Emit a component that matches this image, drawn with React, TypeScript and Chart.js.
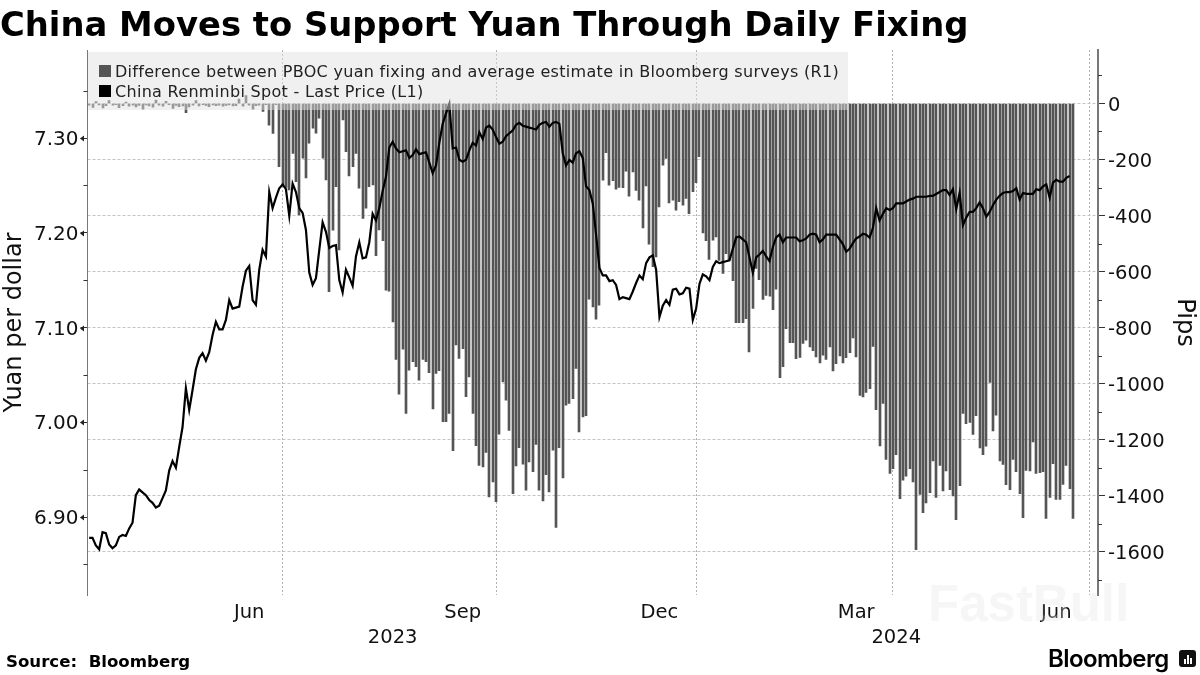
import { useEffect, useRef } from "react"
import { Chart, registerables, type Plugin } from "chart.js"

Chart.register(...registerables)

// China Renminbi spot, one value per trading day
const spotPrice: (number | null)[] = [
  6.878, 6.878, 6.87, 6.866, 6.884, 6.883, 6.871, 6.867, 6.87, 6.879,
  6.881, 6.88, 6.888, 6.894, 6.923, 6.929, 6.926,
  6.923, 6.918, 6.915, 6.91, 6.912, 6.92, 6.928, 6.949, 6.959, 6.952, 6.974, 6.995, 7.036, 7.013,
  7.034, 7.056, 7.068, 7.073, 7.065, 7.074, 7.092, 7.106, 7.098, 7.098, 7.108, 7.129, 7.12, 7.121,
  7.122, 7.143, 7.16, 7.165, 7.129, 7.124, 7.161, 7.182, 7.175, 7.243, 7.226, 7.237, 7.247, 7.251,
  7.246, 7.218, 7.252, 7.243, 7.226, 7.221, 7.203, 7.158, 7.145, 7.152, 7.182, 7.211, 7.201, 7.184, 7.186,
  7.187, 7.15, 7.137, 7.161, 7.153, 7.144, 7.175, 7.19, 7.173, 7.174, 7.19, 7.22, 7.213, 7.226, 7.244,
  7.259, 7.29, 7.296, 7.289, 7.285, 7.286, 7.287, 7.279, 7.282, 7.288, 7.283, 7.284,
  7.285, 7.274, 7.263, 7.271, 7.295, 7.315, 7.326, 7.336, 7.289, 7.29, 7.277, 7.275, 7.277, 7.287,
  7.295, 7.292, 7.306, 7.299, 7.311, 7.313, 7.309, 7.301, 7.294, 7.296, 7.302, 7.305, 7.308, 7.314,
  7.316, 7.313, 7.312, 7.311,
  7.31, 7.309, 7.314, 7.316, 7.317, 7.312, 7.316, 7.317, 7.315, 7.284, 7.271, 7.277, 7.274, 7.284,
  7.286, 7.279, 7.249, 7.245, 7.231, 7.198, 7.163, 7.155, 7.155, 7.149, 7.15, 7.145, 7.13, 7.132, 7.131,
  7.13, 7.138, 7.147, 7.155, 7.151, 7.168, 7.174, 7.176, 7.161, 7.111, 7.123, 7.129, 7.124, 7.14,
  7.141, 7.135, 7.136, 7.142, 7.141, 7.108, 7.12, 7.146, 7.156, 7.154, 7.15, 7.164, 7.17, 7.168, 7.169, 7.17,
  7.171, 7.183, 7.195, 7.196, 7.193, 7.19, 7.174, 7.158, 7.174, 7.177, 7.181, 7.175, 7.17, 7.185,
  7.195, 7.198, 7.19, 7.195, 7.195, 7.195, 7.195, 7.191, 7.192, 7.194, 7.198, 7.199, 7.198, 7.19,
  7.193, 7.198, 7.198, 7.198,
  7.198, 7.193, 7.188, 7.18, 7.183, 7.189, 7.194, 7.196, 7.199, 7.198, 7.195, 7.205, 7.226, 7.213,
  7.22, 7.226, 7.224, 7.226, 7.231, 7.231, 7.231, 7.233, 7.235, 7.236, 7.238, 7.238, 7.238,
  7.238, 7.239, 7.239, 7.241, 7.243, 7.245, 7.245, 7.24, 7.246, 7.225, 7.242, 7.208, 7.216, 7.222,
  7.222, 7.226, 7.232, 7.226, 7.217, 7.222, 7.229, 7.235, 7.239, 7.242, 7.243, 7.243, 7.244, 7.247,
  7.235, 7.242, 7.241, 7.241,
  7.241, 7.246, 7.245, 7.249, 7.251, 7.237, 7.253, 7.256, 7.254, 7.254, 7.258, 7.26, null,
]

// PBOC fixing minus the survey estimate, in pips
const fixingGap = [
  -6, -14, 7, -5, -16, -8, 10, -6, -4, -15, -8, 5, -10, -6, -12, -7, -20, -5, -9, -13,
  12, -6, -10, 8, -4, -18, -7, -11, -9, -33, -12, -6, 10, -9, -4, -7, -11, -5, -8, -6,
  -10, -7, -5, -9, -8, 16, -10, 28, -6, -20, -8, -6, -28, -4,
  -77, -107, -4, -226, -290, -300, -309, -178, -279, -398,
  -195, -266, -142, -88, -106, -52, -195, -273, -672, -452,
  -297, -523, -59, -172, -259, -226, -178, -302, -410, -374,
  -297, -291, -543, -451, -490, -667, -670, -780, -914, -1038,
  -877, -1107, -952, -922, -940, -988, -914, -922, -961, -1091,
  -964, -954, -1136, -1136, -1107, -1240, -862, -910, -875, -1047,
  -976, -1107, -1222, -1292, -1298, -1246, -1405, -1351, -1422, -1181,
  -994, -1059, -1167,
  -1393, -1294, -1229, -1288, -1381, -1280, -1315, -1217, -1381, -1419,
  -1325, -1387, -1238, -1514, -1229, -1337, -1077, -1071, -1054, -946,
  -1173, -1119, -1115, -699, -726, -770, -720, -274, -176, -292,
  -276, -306, -300, -301, -242, -331, -244, -310, -345, -444,
  -294, -502, -583, -548, -369, -220, -196, -355, -345, -381,
  -351, -363, -339, -393, -315, -283, -190, -462, -490, -557,
  -488, -476, -560, -607, -536, -560, -633, -783, -783, -783,
  -768, -887, -732, -589, -629, -700, -685, -688, -736, -663, -979,
  -940, -804, -854, -854, -911, -907, -857, -845, -869, -883,
  -905, -926, -899, -914, -869, -955, -929, -901, -926, -908,
  -890, -837, -905, -1042, -1048, -1032, -1018, -867, -1093, -1223,
  -1071, -1271, -1321, -1304, -1254, -1411, -1345, -1331, -1304, -1351,
  -1593, -1396, -1461, -1426, -1390, -1276, -1407, -1292, -1383, -1312,
  -1379, -1401, -1486, -1365, -1107, -1143, -1139, -1182, -1115, -1230,
  -1254, -1224, -996, -1169, -1113, -1276, -1289, -1361, -1379, -1271,
  -1315, -1393, -1479, -1310, -1312, -1208, -1321, -1318, -1315, -1482,
  -1407, -1286, -1414, -1414, -1360, -1292, -1375, -1482,
]

// the axis runs a few empty days past the last value
const tradingDays = Array.from({ length: 303 }, (_, i) => String(i))
const quarterEndDays = [58, 122, 182, 241, 300]
const monthDays = [48, 112, 171, 230, 290]
const monthNames = ["Jun", "Sep", "Dec", "Mar", "Jun"]
const yearDays = [91, 242]
const yearNames = ["2023", "2024"]

const legendItems = [
  { text: "Difference between PBOC yuan fixing and average estimate in Bloomberg surveys (R1)", color: "#555555" },
  { text: "China Renminbi Spot - Last Price (L1)", color: "#000000" },
]

const FONT = "'DejaVu Sans', sans-serif"
const GRID = "#c4c4c4"
const isWhole = (v: number, step: number) => Math.abs(Math.round(v / step) * step - v) < 1e-6

// short ticks between the labelled ones, and the little arrows Bloomberg puts on the left axis
const axisMarks: Plugin<"bar"> = {
  id: "axisMarks",
  afterDraw(chart) {
    const { ctx } = chart
    const left = chart.scales.y
    const right = chart.scales.y1
    ctx.save()
    ctx.strokeStyle = "#333"
    ctx.fillStyle = "#222"
    ctx.lineWidth = 1
    left.ticks.forEach((t) => {
      const y = Math.round(left.getPixelForValue(t.value)) + 0.5
      if (isWhole(t.value, 0.1)) {
        ctx.beginPath()
        ctx.moveTo(80, y)
        ctx.lineTo(84, y - 3)
        ctx.lineTo(84, y + 3)
        ctx.closePath()
        ctx.fill()
      } else {
        ctx.beginPath()
        ctx.moveTo(83.5, y)
        ctx.lineTo(left.right, y)
        ctx.stroke()
      }
    })
    right.ticks.forEach((t) => {
      if (isWhole(t.value, 200)) return
      const y = Math.round(right.getPixelForValue(t.value)) + 0.5
      ctx.beginPath()
      ctx.moveTo(right.left, y)
      ctx.lineTo(right.left + 4, y)
      ctx.stroke()
    })
    ctx.restore()
  },
}

// keep the thin bars on whole pixels, otherwise antialiasing makes them look striped
const crispBars: Plugin<"bar"> = {
  id: "crispBars",
  beforeDatasetsDraw(chart) {
    chart.getDatasetMeta(1).data.forEach((bar) => {
      bar.x = Math.round(bar.x)
    })
  },
}

// an empty first line with a tiny line height nudges the label down 2px, as in the reference
const nudged = (label: string) => (label ? ["", label] : "")

export default function App() {
  const chartRef = useRef<HTMLCanvasElement>(null)

  useEffect(() => {
    if (!chartRef.current) return

    const chart = new Chart(chartRef.current, {
      type: "bar",
      data: {
        labels: tradingDays,
        datasets: [
          {
            type: "line",
            label: "China Renminbi Spot - Last Price (L1)",
            data: spotPrice,
            yAxisID: "y",
            borderColor: "#000",
            borderWidth: 2.2,
            pointRadius: 0,
            tension: 0,
            order: 1,
          },
          {
            type: "bar",
            label: "Difference between PBOC yuan fixing and average estimate in Bloomberg surveys (R1)",
            data: fixingGap,
            yAxisID: "y1",
            backgroundColor: "#555555",
            barThickness: 2,
            order: 2,
          },
        ],
      },
      options: {
        responsive: false,
        animation: false,
        layout: { padding: { top: 50 } },
        plugins: { legend: { display: false }, tooltip: { enabled: false } },
        scales: {
          x: {
            offset: true,
            afterFit: (scale) => {
              scale.height = 80
            },
            border: { display: false, dash: [2, 2] },
            grid: {
              offset: false,
              drawTicks: false,
              color: (c) => (quarterEndDays.includes(c.index) ? "#b0b0b0" : "transparent"),
            },
            ticks: {
              autoSkip: false,
              maxRotation: 0,
              minRotation: 0,
              padding: 5,
              color: "#111",
              font: { family: FONT, size: 19.5, lineHeight: 1.28 },
              callback: (_v, i) => {
                if (monthDays.includes(i)) return monthNames[monthDays.indexOf(i)]
                if (yearDays.includes(i)) return ["", yearNames[yearDays.indexOf(i)]]
                return ""
              },
            },
          },
          y: {
            position: "left",
            min: 6.8177,
            max: 7.3929,
            afterFit: (scale) => {
              scale.width = 87.5
            },
            border: { color: "#777", width: 1 },
            grid: {
              drawOnChartArea: false,
              tickLength: 7,
              tickColor: (c) => (isWhole(c.tick.value, 0.1) ? "#333" : "transparent"),
            },
            title: {
              display: true,
              text: "Yuan per dollar",
              color: "#111",
              font: { family: FONT, size: 24 },
              padding: 0,
            },
            ticks: {
              stepSize: 0.05,
              includeBounds: false,
              autoSkip: false,
              padding: 2,
              color: "#111",
              font: { family: FONT, size: 20, lineHeight: 0.2 },
              callback: (v) => nudged(isWhole(Number(v), 0.1) ? Number(v).toFixed(2) : ""),
            },
          },
          y1: {
            position: "right",
            min: -1755,
            max: 191,
            afterFit: (scale) => {
              scale.width = 102
            },
            border: { color: "#777", width: 2, dash: [3, 2] },
            grid: {
              tickLength: 7,
              tickColor: (c) => (isWhole(c.tick.value, 200) ? "#333" : "transparent"),
              color: (c) => (isWhole(c.tick.value, 200) && c.tick.value <= 0 ? GRID : "transparent"),
            },
            title: {
              display: true,
              text: "Pips",
              color: "#111",
              font: { family: FONT, size: 24 },
              padding: 1,
            },
            ticks: {
              stepSize: 100,
              includeBounds: false,
              autoSkip: false,
              padding: 3,
              color: "#111",
              font: { family: FONT, size: 19.5, lineHeight: 0.2 },
              callback: (v) => nudged(isWhole(Number(v), 200) && Number(v) <= 0 ? String(v) : ""),
            },
          },
        },
      },
      plugins: [crispBars, axisMarks],
    })

    return () => chart.destroy()
  }, [])

  return (
    <div style={{ position: "fixed", left: 0, top: 0, width: 1200, height: 675, background: "#fff", overflow: "hidden", fontFamily: FONT, color: "#000" }}>
      <canvas ref={chartRef} width={1200} height={675} style={{ position: "absolute", left: 0, top: 0 }} />

      <div style={{ position: "absolute", left: 0, top: 4, fontSize: 33.8, fontWeight: 700, whiteSpace: "nowrap", lineHeight: "42px" }}>
        China Moves to Support Yuan Through Daily Fixing
      </div>

      {/* legend sits on a see-through panel over the top of the bars */}
      <div style={{ position: "absolute", left: 88, top: 52, width: 760, height: 58, background: "rgba(224,224,224,0.49)" }} />
      {legendItems.map((item, i) => (
        <div key={item.text} style={{ position: "absolute", left: 99, top: 61 + i * 20, height: 20, display: "flex", alignItems: "center", whiteSpace: "nowrap", fontSize: 16, letterSpacing: 0.3, color: "#222" }}>
          <span style={{ width: 12, height: 12, background: item.color, marginRight: 4 }} />
          {item.text}
        </div>
      ))}

      <div style={{ position: "absolute", left: 928, top: 574, fontFamily: "'Liberation Sans', sans-serif", fontSize: 51, fontWeight: 700, whiteSpace: "nowrap", color: "rgba(225,225,225,0.3)" }}>
        FastBull
      </div>

      <div style={{ position: "absolute", left: 6, top: 651, fontSize: 16.6, fontWeight: 700, whiteSpace: "pre", lineHeight: "22px" }}>
        Source:  Bloomberg
      </div>

      <div style={{ position: "absolute", left: 1048, top: 644, fontFamily: "Inter, sans-serif", fontSize: 24, fontWeight: 600, whiteSpace: "nowrap", lineHeight: "30px", letterSpacing: -0.6 }}>
        Bloomberg
      </div>
      <div style={{ position: "absolute", left: 1179, top: 650, width: 17, height: 17, background: "#111", borderRadius: 3, display: "flex", alignItems: "flex-end", justifyContent: "center", gap: 1, paddingBottom: 3, boxSizing: "border-box" }}>
        <span style={{ width: 2, height: 5, background: "#fff" }} />
        <span style={{ width: 2, height: 9, background: "#fff" }} />
        <span style={{ width: 2, height: 6, background: "#fff" }} />
      </div>
    </div>
  )
}
